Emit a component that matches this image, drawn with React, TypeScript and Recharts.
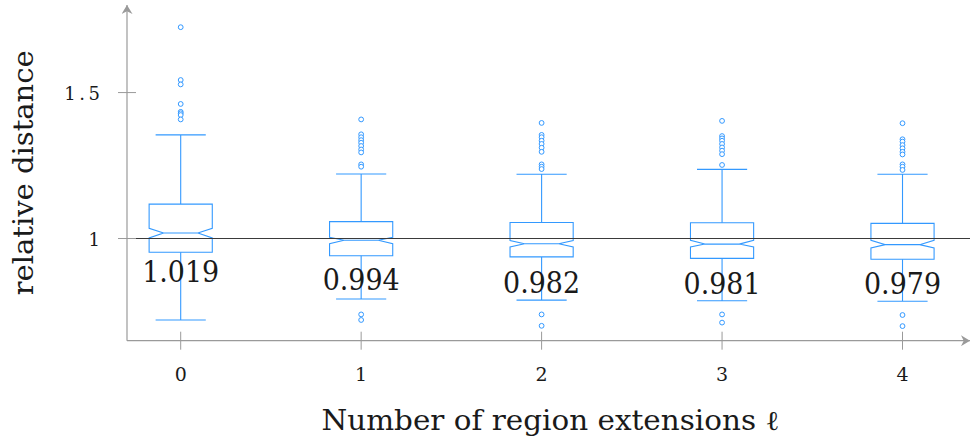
import { ComposedChart, Line, ReferenceLine, Scatter, XAxis, YAxis } from 'recharts';

const BLUE = '#3399ff';
const AXIS_GRAY = '#9a9a9a';
const TEXT = '#1a1a1a';
const FONT = 'DejaVu Serif';

// one box per number of region extensions
const extensions = [0, 1, 2, 3, 4];
const medians = [1.019, 0.994, 0.982, 0.981, 0.979];
const lowerQuartiles = [0.953, 0.941, 0.937, 0.932, 0.929];
const upperQuartiles = [1.118, 1.058, 1.055, 1.054, 1.052];
const notchLows = [1.002, 0.982, 0.971, 0.971, 0.968];
const notchHighs = [1.035, 1.004, 0.993, 0.994, 0.994];
const whiskerLows = [0.721, 0.793, 0.789, 0.787, 0.785];
const whiskerHighs = [1.355, 1.221, 1.22, 1.237, 1.22];
const outliers = [
  [1.724, 1.543, 1.528, 1.461, 1.434, 1.429, 1.423, 1.408],
  [1.408, 1.357, 1.347, 1.337, 1.328, 1.317, 1.305, 1.295, 1.254, 1.246, 0.74, 0.721],
  [1.396, 1.355, 1.347, 1.335, 1.324, 1.311, 1.297, 1.254, 1.246, 1.238, 0.74, 0.701],
  [1.403, 1.351, 1.343, 1.335, 1.324, 1.312, 1.301, 1.289, 1.252, 0.74, 0.712],
  [1.395, 1.34, 1.332, 1.32, 1.309, 1.297, 1.288, 1.254, 1.246, 1.235, 0.738, 0.7],
];

const yTicks = [1, 1.5];

// box geometry, in x-axis units
const BOX_HALF = 0.175;
const NOTCH_HALF = 0.095;
const CAP_HALF = 0.139;

type Pt = { x: number; y: number };

function boxOutline(i: number): Pt[] {
  const x = extensions[i];
  const m = medians[i];
  const q1 = lowerQuartiles[i];
  const q3 = upperQuartiles[i];
  const lo = notchLows[i];
  const hi = notchHighs[i];
  return [
    { x: x - NOTCH_HALF, y: m },
    { x: x + NOTCH_HALF, y: m },
    { x: x + BOX_HALF, y: hi },
    { x: x + BOX_HALF, y: q3 },
    { x: x - BOX_HALF, y: q3 },
    { x: x - BOX_HALF, y: hi },
    { x: x - NOTCH_HALF, y: m },
    { x: x - BOX_HALF, y: lo },
    { x: x - BOX_HALF, y: q1 },
    { x: x + BOX_HALF, y: q1 },
    { x: x + BOX_HALF, y: lo },
    { x: x + NOTCH_HALF, y: m },
  ];
}

function whisker(i: number, from: number, to: number): Pt[] {
  const x = extensions[i];
  return [
    { x, y: from },
    { x, y: to },
    { x: x - CAP_HALF, y: to },
    { x: x + CAP_HALF, y: to },
  ];
}

const outlierPoints = outliers.flatMap((vals, i) => vals.map((y) => ({ x: extensions[i], y })));
const medianPoints = extensions.map((x, i) => ({ x, y: medians[i] }));

const textStyle = { fontFamily: FONT };

function XTick({ x, y, payload }: any) {
  return (
    <g>
      <line x1={x} x2={x} y1={y - 9} y2={y + 9} stroke={AXIS_GRAY} />
      <text x={x} y={y + 40} textAnchor="middle" style={textStyle} fontSize={19} fill={TEXT}>
        {payload.value}
      </text>
    </g>
  );
}

function YTick({ x, y, payload }: any) {
  return (
    <g>
      <line x1={x - 9} x2={x + 9} y1={y} y2={y} stroke={AXIS_GRAY} />
      <text x={x - 27} y={y + 7.5} textAnchor="end" style={textStyle} fontSize={18} fill={TEXT}>
        {String(payload.value).split('').join('\u2009')}
      </text>
    </g>
  );
}

function XTitle({ viewBox }: any) {
  const cx = viewBox ? viewBox.x + viewBox.width / 2 + 2 : 550;
  const top = viewBox ? viewBox.y : 340.7;
  return (
    <text x={cx} y={top + 89} textAnchor="middle" style={textStyle} fontSize={27} fill={TEXT} textLength={458} lengthAdjust="spacingAndGlyphs">
      Number of region extensions ℓ
    </text>
  );
}

function YTitle({ viewBox }: any) {
  const cy = viewBox ? viewBox.y + viewBox.height / 2 : 172;
  const bx = 33;
  return (
    <text x={bx} y={cy} transform={`rotate(-90, ${bx}, ${cy})`} textAnchor="middle" style={textStyle} fontSize={28} fill={TEXT} textLength={245} lengthAdjust="spacingAndGlyphs">
      relative distance
    </text>
  );
}

function Outlier({ cx, cy }: any) {
  return <circle cx={cx} cy={cy} r={2.4} fill="#fff" stroke={BLUE} strokeWidth={1} />;
}

function MedianLabel({ cx, cy, payload }: any) {
  return (
    <text x={cx} y={cy + 49.5} textAnchor="middle" style={textStyle} fontSize={29} fill={TEXT} textLength={77} lengthAdjust="spacingAndGlyphs">
      {payload.y.toFixed(3)}
    </text>
  );
}

export default function App() {
  return (
    <div style={{ position: 'absolute', left: 0, top: 0, background: '#fff' }}>
      <svg width={0} height={0} style={{ position: 'absolute' }}>
        <defs>
          <marker
            id="axisArrow"
            viewBox="0 0 10 10"
            refX={10}
            refY={5}
            markerWidth={9}
            markerHeight={11}
            markerUnits="userSpaceOnUse"
            orient="auto-start-reverse"
            preserveAspectRatio="none"
          >
            <path d="M0,0 L10,5 L0,10 L3,5 Z" fill={AXIS_GRAY} />
          </marker>
        </defs>
      </svg>
      <ComposedChart width={971} height={443} margin={{ top: 5, right: 1, bottom: 72.3, left: 67 }}>
        <XAxis
          type="number"
          dataKey="x"
          domain={[-0.2976, 4.374]}
          allowDataOverflow
          ticks={extensions}
          interval={0}
          height={30}
          tickSize={0}
          tickMargin={0}
          tickLine={false}
          axisLine={{ stroke: AXIS_GRAY, strokeWidth: 1.2, markerEnd: 'url(#axisArrow)' }}
          tick={<XTick />}
          label={<XTitle />}
        />
        <YAxis
          type="number"
          dataKey="y"
          domain={[0.65, 1.8]}
          allowDataOverflow
          ticks={yTicks}
          interval={0}
          width={60}
          tickSize={0}
          tickMargin={0}
          tickLine={false}
          axisLine={{ stroke: AXIS_GRAY, strokeWidth: 1.2, markerStart: 'url(#axisArrow)' }}
          tick={<YTick />}
          label={<YTitle />}
        />
        {extensions.map((_, i) => (
          <Line
            key={`box-${i}`}
            data={boxOutline(i)}
            dataKey="y"
            stroke={BLUE}
            strokeWidth={1.1}
            dot={false}
            activeDot={false}
            isAnimationActive={false}
          />
        ))}
        {extensions.map((_, i) => (
          <Line
            key={`wh-up-${i}`}
            data={whisker(i, upperQuartiles[i], whiskerHighs[i])}
            dataKey="y"
            stroke={BLUE}
            strokeWidth={1.1}
            dot={false}
            activeDot={false}
            isAnimationActive={false}
          />
        ))}
        {extensions.map((_, i) => (
          <Line
            key={`wh-lo-${i}`}
            data={whisker(i, lowerQuartiles[i], whiskerLows[i])}
            dataKey="y"
            stroke={BLUE}
            strokeWidth={1.1}
            dot={false}
            activeDot={false}
            isAnimationActive={false}
          />
        ))}
        <ReferenceLine y={1} stroke="#3a3a3a" strokeWidth={1.1} />
        <Scatter data={outlierPoints} dataKey="y" shape={<Outlier />} isAnimationActive={false} />
        <Scatter data={medianPoints} dataKey="y" shape={<MedianLabel />} isAnimationActive={false} />
      </ComposedChart>
    </div>
  );
}
